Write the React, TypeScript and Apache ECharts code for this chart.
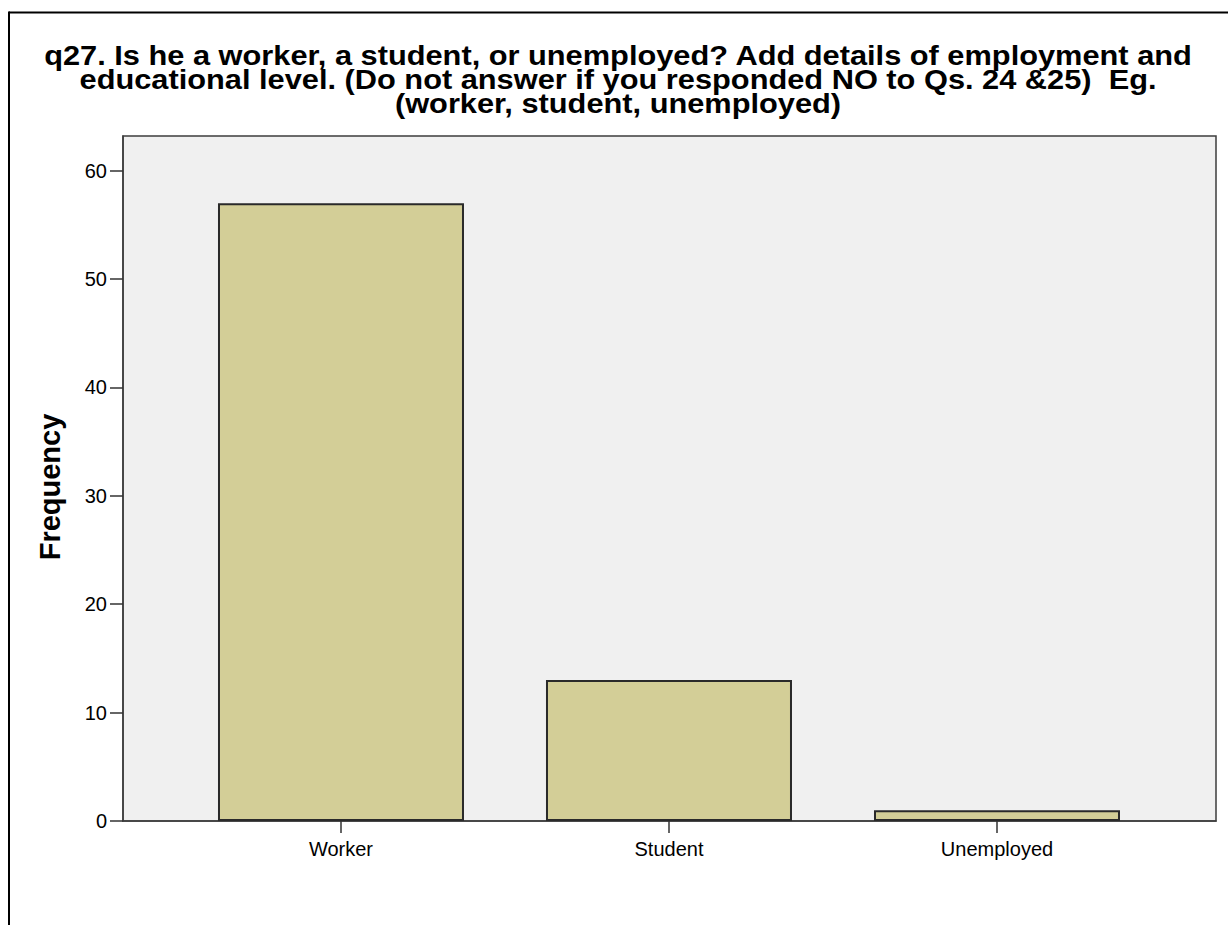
import React, { useEffect, useRef } from "react";
import * as echarts from "echarts";

const categories = ["Worker", "Student", "Unemployed"];
const frequencies = [57, 13, 1];
const categoryPositions = [1, 2, 3];
const yTicks = [0, 10, 20, 30, 40, 50, 60];
const titleLines = [
  "q27. Is he a worker, a student, or unemployed? Add details of employment and",
  "educational level. (Do not answer if you responded NO to Qs. 24 &25)  Eg.",
  "(worker, student, unemployed)",
];
const yAxisTitle = "Frequency";

const FONT = "'Liberation Sans', Arial, Helvetica, sans-serif";

export default function App() {
  const ref = useRef<HTMLDivElement>(null);
  useEffect(() => {
    const chart = echarts.init(ref.current!, null, { renderer: "svg" });
    const seriesData = categoryPositions.map((p, i) => [p, frequencies[i]]);
    chart.setOption({
      animation: false,
      backgroundColor: "#ffffff",
      textStyle: { fontFamily: FONT },
      grid: {
        left: 123,
        top: 136,
        right: 12,
        bottom: 104,
        show: true,
        backgroundColor: "#f0f0f0",
        borderColor: "#3c3c3c",
        borderWidth: 1.5,
      },
      xAxis: {
        type: "value",
        min: 0.3354,
        max: 3.6677,
        splitLine: { show: false },
        axisLine: { show: true, onZero: false, lineStyle: { color: "#3c3c3c", width: 1.5 } },
        axisTick: { show: true, length: 12, customValues: categoryPositions, lineStyle: { color: "#333", width: 1.5 } },
        axisLabel: {
          color: "#000",
          fontSize: 20,
          margin: 18,
          fontFamily: FONT,
          customValues: categoryPositions,
          formatter: (v: number) => categories[Math.round(v) - 1] ?? "",
        },
      },
      yAxis: {
        type: "value",
        min: 0,
        max: 63.2,
        interval: 10,
        splitLine: { show: false },
        axisLine: { show: true, lineStyle: { color: "#3c3c3c", width: 1.5 } },
        axisTick: { show: true, length: 13, customValues: yTicks, lineStyle: { color: "#333", width: 1.5 } },
        axisLabel: { color: "#000", fontSize: 20, margin: 16, customValues: yTicks, fontFamily: FONT },
      },
      series: [
        {
          type: "bar",
          data: seriesData,
          barWidth: 246,
          itemStyle: { color: "#d3ce97", borderColor: "#2a2a2a", borderWidth: 2 },
        },
      ],
      graphic: [
        {
          type: "line",
          silent: true,
          shape: { x1: 9, y1: 12.5, x2: 1300, y2: 12.5 },
          style: { stroke: "#000", lineWidth: 2 },
        },
        {
          type: "line",
          silent: true,
          shape: { x1: 9, y1: 11.5, x2: 9, y2: 1000 },
          style: { stroke: "#000", lineWidth: 2 },
        },
        {
          type: "text",
          x: 618,
          y: 44,
          scaleX: 1.14,
          style: {
            text: titleLines.join("\n"),
            fontSize: 27,
            fontWeight: "bold",
            fontFamily: FONT,
            lineHeight: 24,
            align: "center",
            verticalAlign: "top",
            textAlign: "center",
            textVerticalAlign: "top",
            fill: "#000",
          },
        },
        {
          type: "text",
          x: 50,
          y: 487,
          rotation: Math.PI / 2,
          style: {
            text: yAxisTitle,
            fontSize: 29,
            fontWeight: "bold",
            fontFamily: FONT,
            align: "center",
            verticalAlign: "middle",
            textAlign: "center",
            textVerticalAlign: "middle",
            fill: "#000",
          },
        },
      ],
    });
    return () => chart.dispose();
  }, []);
  return (
    <div
      ref={ref}
      style={{ position: "absolute", left: 0, top: 0, width: 1228, height: 925 }}
    />
  );
}
